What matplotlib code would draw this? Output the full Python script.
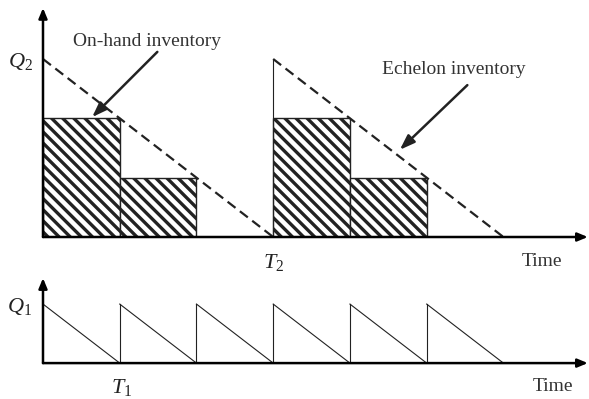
import matplotlib
matplotlib.use("Agg")
import matplotlib.pyplot as plt
from matplotlib.patches import Rectangle

plt.rcParams['font.family'] = ['Liberation Serif', 'DejaVu Serif']
plt.rcParams['mathtext.fontset'] = 'custom'
plt.rcParams['mathtext.rm'] = 'Liberation Serif'
plt.rcParams['mathtext.it'] = 'Liberation Serif:italic'
plt.rcParams['hatch.linewidth'] = 2.4

# echelon (warehouse) cycle, in units of T1
Q2 = 3
echelon_starts = [0, 3]
echelon_len = 3
# on-hand inventory blocks
block_left = [0, 1, 3, 4]
block_height = [2, 1, 2, 1]
block_width = [1, 1, 1, 1]
# retailer cycles
Q1 = 1
retailer_starts = [0, 1, 2, 3, 4, 5]
retailer_len = 1

XMAX = 7.1

fig = plt.figure(figsize=(5.89, 3.99), dpi=100)
top = fig.add_axes([0.073, 0.406, 0.925, 0.574])
bot = fig.add_axes([0.073, 0.090, 0.925, 0.213])

for ax in (top, bot):
    ax.set_xlim(0, XMAX)
    ax.axis('off')
    # axis arrows
    ax.annotate('', xy=(1.0, 0), xytext=(0, 0), xycoords='axes fraction',
                arrowprops=dict(arrowstyle='-|>,head_length=0.6,head_width=0.25',
                                lw=1.8, color='black', shrinkA=0, shrinkB=0))
    ax.annotate('', xy=(0, 1.0), xytext=(0, 0), xycoords='axes fraction',
                arrowprops=dict(arrowstyle='-|>,head_length=0.6,head_width=0.25',
                                lw=1.8, color='black', shrinkA=0, shrinkB=0))

# top panel
top.set_ylim(0, 3.86)
for l, h, w in zip(block_left, block_height, block_width):
    top.add_patch(Rectangle((l, 0), w, h, facecolor='white', edgecolor='#222222',
                            hatch='\\\\\\', lw=1.0))
for s in echelon_starts:
    top.plot([s, s + echelon_len], [Q2, 0], color='#222222', lw=1.6, ls=(0, (4.5, 2.5)))
    if s > 0:
        top.plot([s, s], [0, Q2], color='#222222', lw=0.8)

top.text(-0.29, Q2 - 0.04, '$Q_2$', fontsize=16, ha='center', va='center', color='#222222')
top.text(1.36, 3.3, 'On-hand inventory', fontsize=14, ha='center', va='center', color='#333333')
top.text(5.35, 2.82, 'Echelon inventory', fontsize=14, ha='center', va='center', color='#333333')
top.annotate('', xy=(0.64, 2.02), xytext=(1.49, 3.12),
             arrowprops=dict(arrowstyle='-|>,head_length=0.9,head_width=0.32',
                             lw=1.8, color='#222222', shrinkA=0, shrinkB=0))
top.annotate('', xy=(4.65, 1.47), xytext=(5.53, 2.56),
             arrowprops=dict(arrowstyle='-|>,head_length=0.9,head_width=0.32',
                             lw=1.8, color='#222222', shrinkA=0, shrinkB=0))
top.text(3.0, -0.43, '$T_2$', fontsize=16, ha='center', va='center', color='#222222')
top.text(6.5, -0.41, 'Time', fontsize=14, ha='center', va='center', color='#333333')

# bottom panel
bot.set_ylim(0, 1.44)
for s in retailer_starts:
    bot.plot([s, s + retailer_len], [Q1, 0], color='#222222', lw=0.8)
    if s > 0:
        bot.plot([s, s], [0, Q1], color='#222222', lw=0.8)
bot.text(-0.3, 0.96, '$Q_1$', fontsize=16, ha='center', va='center', color='#222222')
bot.text(1.03, -0.42, '$T_1$', fontsize=16, ha='center', va='center', color='#222222')
bot.text(6.65, -0.39, 'Time', fontsize=14, ha='center', va='center', color='#333333')

fig.savefig('out.png', dpi=100)
